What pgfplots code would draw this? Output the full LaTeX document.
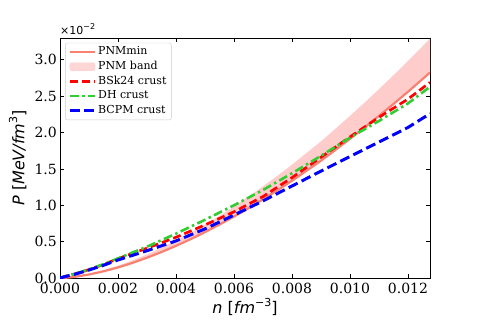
\documentclass[border=0pt]{standalone}
\usepackage{fontspec}
\setmainfont{DejaVu Serif}
\newfontfamily\dvs{DejaVu Sans}
\usepackage{pgfplots}
\usepackage{pgfplotstable}
\pgfplotsset{compat=1.18}
\usepgfplotslibrary{fillbetween}
\definecolor{salmonc}{HTML}{FA8072}
\definecolor{bandc}{HTML}{FFCCCC}
\definecolor{limec}{HTML}{32CD32}

\pgfplotstableread{
n P
0 0
0.00025 0.0052
0.0005 0.016
0.001 0.048
0.0015 0.092
0.002 0.145
0.0025 0.208
0.003 0.279
0.0035 0.357
0.004 0.442
0.0045 0.533
0.005 0.631
0.0055 0.735
0.006 0.845
0.0065 0.960
0.007 1.082
0.0075 1.207
0.008 1.338
0.0085 1.475
0.009 1.613
0.0095 1.762
0.010 1.913
0.0105 2.069
0.011 2.229
0.0115 2.393
0.012 2.561
0.0125 2.735
0.01276 2.826
}\pnmmin

\pgfplotstableread{
n P
0 0
0.00025 0.006
0.0005 0.019
0.001 0.056
0.0015 0.107
0.002 0.169
0.0025 0.242
0.003 0.325
0.0035 0.416
0.004 0.515
0.0045 0.621
0.005 0.735
0.0055 0.856
0.006 0.984
0.0065 1.118
0.007 1.261
0.0075 1.406
0.008 1.559
0.0085 1.718
0.009 1.879
0.0095 2.053
0.010 2.229
0.0105 2.410
0.011 2.597
0.0115 2.788
0.012 2.984
0.0125 3.186
0.01276 3.292
}\pnmup

\pgfplotstableread{
n P
0 0
0.0002 0.025
0.0005 0.055
0.001 0.115
0.0015 0.185
0.002 0.266
0.003 0.41
0.004 0.56
0.005 0.73
0.006 0.91
0.007 1.12
0.008 1.38
0.009 1.66
0.010 1.94
0.011 2.21
0.012 2.46
0.01276 2.69
}\bsk

\pgfplotstableread{
n P
0 0
0.0002 0.025
0.0005 0.055
0.001 0.12
0.0015 0.19
0.002 0.27
0.003 0.43
0.004 0.61
0.005 0.80
0.006 1.00
0.007 1.21
0.008 1.44
0.009 1.68
0.010 1.93
0.011 2.16
0.012 2.40
0.01276 2.63
}\dh

\pgfplotstableread{
n P
0 0
0.0002 0.022
0.0005 0.05
0.001 0.11
0.0015 0.175
0.002 0.248
0.003 0.375
0.004 0.51
0.005 0.675
0.006 0.865
0.007 1.06
0.008 1.265
0.009 1.47
0.010 1.67
0.011 1.87
0.012 2.07
0.01276 2.26
}\bcpm

\begin{document}
\begin{tikzpicture}
\begin{axis}[name=ax,
  scale only axis, width=370pt, height=240pt,
  xmin=0, xmax=0.01276, ymin=0, ymax=3.3,
  scaled x ticks=false, scaled y ticks=false,
  xtick={0,0.002,0.004,0.006,0.008,0.010,0.012},
  xticklabels={0.000,0.002,0.004,0.006,0.008,0.010,0.012},
  ytick={0,0.5,1,1.5,2,2.5,3},
  yticklabels={0.0,0.5,1.0,1.5,2.0,2.5,3.0},
  tick align=inside, major tick length=4pt,
  tick style={black, line width=0.8pt},
  axis line style={line width=0.8pt},
  xtick pos=both, ytick pos=both,
  ticklabel style={font=\fontsize{14}{16}\selectfont},
  xticklabel style={inner sep=0pt, yshift=-5pt},
  yticklabel style={inner sep=0pt, xshift=-3pt},
  xlabel={{\dvs\fontsize{16}{18}\selectfont\itshape n\upshape\ [\itshape fm\upshape\raisebox{0.45em}{\fontsize{11}{11}\selectfont −3}]}},
  xlabel style={at={(axis description cs:0.5,0)}, anchor=north, inner sep=0pt, yshift=-20pt},
  ylabel={{\dvs\fontsize{16}{18}\selectfont\itshape P\upshape\ [\itshape MeV/fm\upshape\raisebox{0.45em}{\fontsize{11}{11}\selectfont 3}]}},
  ylabel style={at={(axis description cs:-0.09,0.5)}, anchor=south, inner sep=0pt},
  legend cell align=left,
  legend style={at={(0.014,0.98)}, anchor=north west, draw=black!20, rounded corners=2pt,
    fill=white, fill opacity=0.8, text opacity=1, font=\fontsize{11}{12}\selectfont,
    inner xsep=3pt, inner ysep=2pt, row sep=0.6pt,
    nodes={text height=8pt, text depth=2.5pt, inner sep=1.8pt}},
  legend image code/.code={\draw[#1] (0pt,0pt) -- (25pt,0pt);},
]
\addplot[name path=lo, draw=none, forget plot] table[x=n,y=P] {\pnmmin};
\addplot[name path=up, draw=none, forget plot] table[x=n,y=P] {\pnmup};
\addplot[bandc, forget plot] fill between[of=up and lo];
\addplot[salmonc, line width=2.2pt] table[x=n,y=P] {\pnmmin};
\addlegendentry{PNMmin}
\addlegendimage{legend image code/.code={\fill[bandc] (0pt,-4pt) rectangle (25pt,4pt);}}
\addlegendentry{PNM band}
\addplot[red, line width=2.7pt, dash pattern=on 8pt off 4pt] table[x=n,y=P] {\bsk};
\addlegendentry{BSk24 crust}
\addplot[limec, line width=2.6pt, dash pattern=on 9pt off 3.5pt on 2.5pt off 3.5pt] table[x=n,y=P] {\dh};
\addlegendentry{DH crust}
\addplot[blue, line width=3pt, dash pattern=on 10pt off 4.5pt] table[x=n,y=P] {\bcpm};
\addlegendentry{BCPM crust}
\end{axis}
\node[anchor=south west, inner sep=0pt] at ([yshift=3pt]ax.north west) {\dvs\fontsize{11}{12}\selectfont ×10\raisebox{0.45em}{\fontsize{8}{8}\selectfont −2}};
\pgfresetboundingbox
\path[use as bounding box] ([xshift=-60pt,yshift=-41pt]ax.south west) rectangle ([xshift=48pt,yshift=38pt]ax.north east);
\end{tikzpicture}
\end{document}
